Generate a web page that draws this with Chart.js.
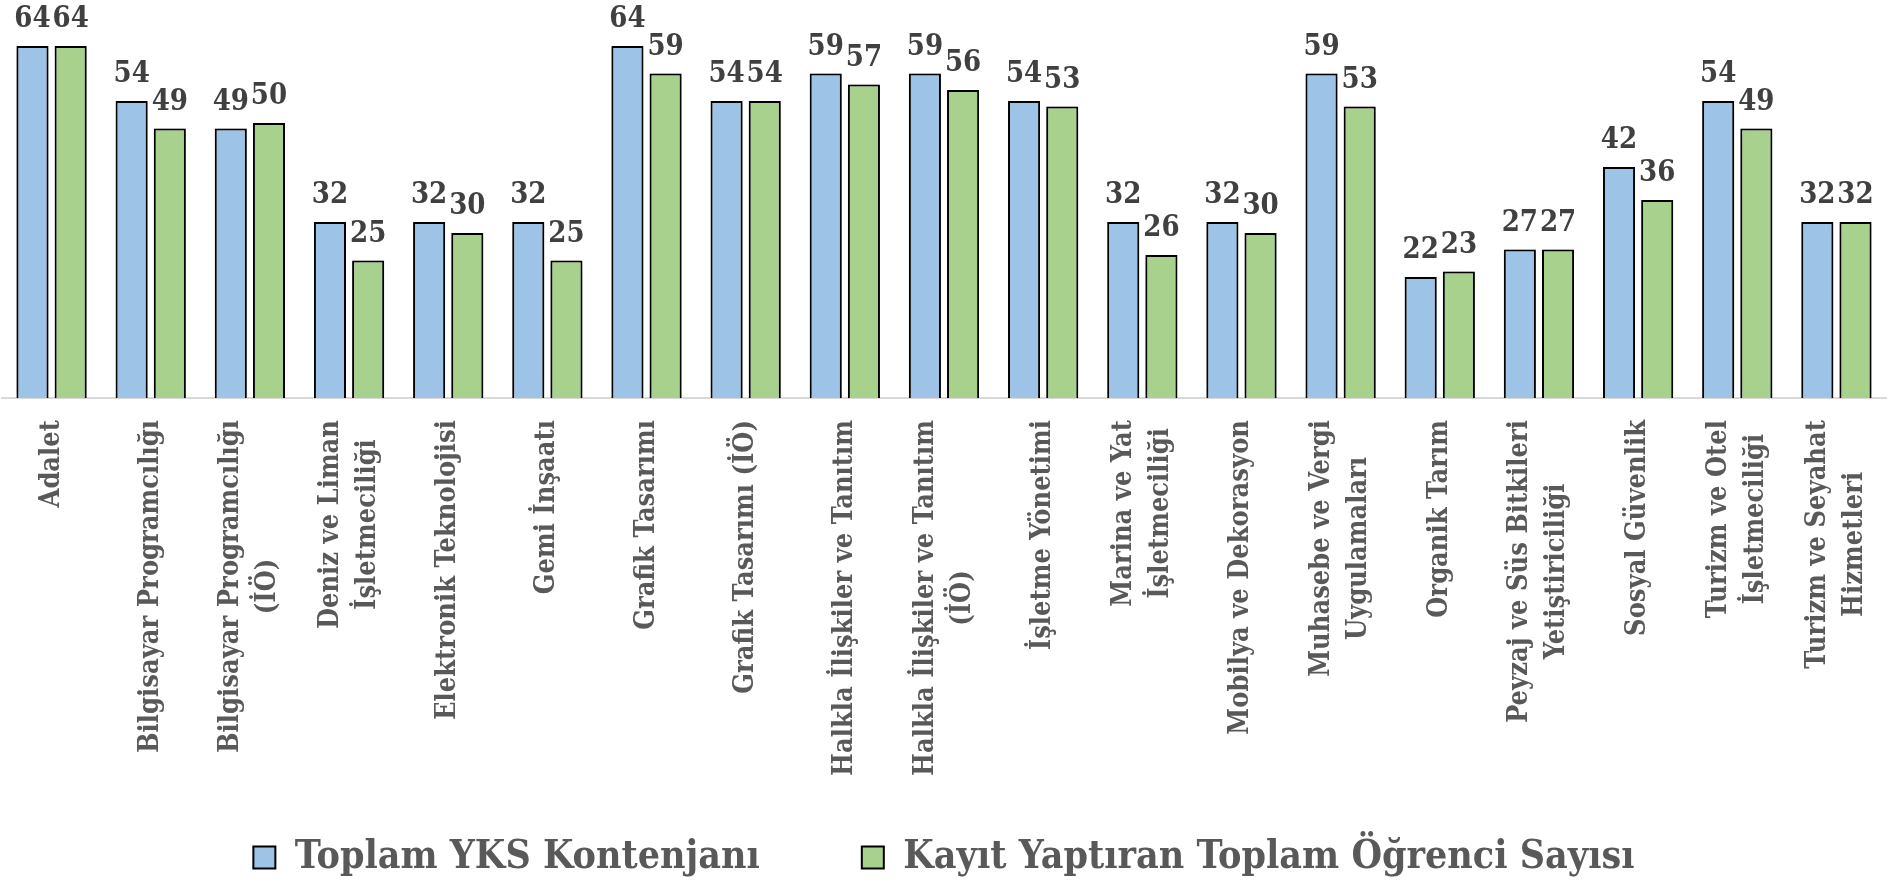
<!DOCTYPE html>
<html>
<head>
<meta charset="utf-8">
<script src="https://cdn.jsdelivr.net/npm/chart.js@4.4.1/dist/chart.umd.min.js"></script>
<style>
  html, body { margin: 0; padding: 0; background: #fff; }
  .chartBox { width: 1896px; height: 880px; position: relative; }
</style>
</head>
<body>
<div class="chartBox"><canvas id="barChart"></canvas></div>
<script>
// program names, long ones split the same way as the original
const programs = [
  ["Adalet"],
  ["Bilgisayar Programcılığı"],
  ["Bilgisayar Programcılığı", "(İÖ)"],
  ["Deniz ve Liman", "İşletmeciliği"],
  ["Elektronik Teknolojisi"],
  ["Gemi İnşaatı"],
  ["Grafik Tasarımı"],
  ["Grafik Tasarımı (İÖ)"],
  ["Halkla İlişkiler ve Tanıtım"],
  ["Halkla İlişkiler ve Tanıtım", "(İÖ)"],
  ["İşletme Yönetimi"],
  ["Marina ve Yat", "İşletmeciliği"],
  ["Mobilya ve Dekorasyon"],
  ["Muhasebe ve Vergi", "Uygulamaları"],
  ["Organik Tarım"],
  ["Peyzaj ve Süs Bitkileri", "Yetiştiriciliği"],
  ["Sosyal Güvenlik"],
  ["Turizm ve Otel", "İşletmeciliği"],
  ["Turizm ve Seyahat", "Hizmetleri"]
];

const seriesNames = ["Toplam YKS Kontenjanı", "Kayıt Yaptıran Toplam Öğrenci Sayısı"];
const quota    = [64, 54, 49, 32, 32, 32, 64, 54, 59, 59, 54, 32, 32, 59, 22, 27, 42, 54, 32];
const enrolled = [64, 49, 50, 25, 30, 25, 59, 54, 57, 56, 53, 26, 30, 53, 23, 27, 36, 49, 32];

const serif = "'DejaVu Serif Condensed', 'DejaVu Serif', serif";
const legendSize = 39;
const legendPad = 102;
const bottomPad = -7; // lets the legend row sit a bit lower

// soft shadow behind the bars + value labels on top
const barExtras = {
  id: "barExtras",
  beforeDatasetsDraw(chart) {
    const c = chart.ctx;
    c.save();
    c.shadowColor = "rgba(0,0,0,0.45)";
    c.shadowBlur = 7;
  },
  afterDatasetsDraw(chart) {
    const c = chart.ctx;
    c.restore();
    c.save();
    c.font = "bold 29px " + serif;
    c.fillStyle = "#404040";
    c.textAlign = "center";
    c.textBaseline = "alphabetic";
    chart.data.datasets.forEach((ds, di) => {
      chart.getDatasetMeta(di).data.forEach((bar, i) => {
        c.fillText(ds.data[i], bar.x, bar.y - 19);
      });
    });
    c.restore();
  }
};

// rotated category labels, lines centred on each other
const xLabels = {
  id: "xLabels",
  afterDraw(chart) {
    const c = chart.ctx;
    const xs = chart.scales.x;
    const top = xs.top + 22;
    const lh = 37;
    c.save();
    c.font = "bold 27px " + serif;
    c.fillStyle = "#595959";
    c.textAlign = "center";
    c.textBaseline = "middle";
    programs.forEach((lines, i) => {
      const cx = xs.getPixelForTick(i);
      const w = Math.max(...lines.map(l => c.measureText(l).width));
      c.save();
      c.translate(cx, top);
      c.rotate(-Math.PI / 2);
      lines.forEach((l, k) => {
        c.fillText(l, -w / 2, (k - (lines.length - 1) / 2) * lh);
      });
      c.restore();
    });
    c.restore();
  }
};

const ctx = document.getElementById("barChart").getContext("2d");

new Chart(ctx, {
  type: "bar",
  data: {
    labels: programs,
    datasets: [
      {
        label: seriesNames[0],
        data: quota,
        backgroundColor: "#9DC3E6",
        borderColor: "#000000",
        borderWidth: 2
      },
      {
        label: seriesNames[1],
        data: enrolled,
        backgroundColor: "#A9D18E",
        borderColor: "#000000",
        borderWidth: 2
      }
    ]
  },
  options: {
    responsive: true,
    maintainAspectRatio: false,
    animation: false,
    categoryPercentage: 0.77,
    barPercentage: 0.84,
    layout: { padding: { left: 2, right: 10, top: 13, bottom: bottomPad } },
    scales: {
      x: {
        grid: { display: false },
        border: { color: "#D9D9D9", width: 2 },
        ticks: { display: false },
        // keep the axis line at y≈398 whatever the legend takes
        afterFit(scale) { scale.height = 880 - bottomPad - 398 - (legendSize + legendPad + 10); }
      },
      y: {
        display: false,
        min: 0,
        max: 70
      }
    },
    plugins: {
      tooltip: { enabled: false },
      legend: {
        position: "bottom",
        labels: {
          boxWidth: 22,
          boxHeight: 22,
          padding: legendPad,
          color: "#595959",
          font: { family: serif, size: legendSize, weight: "bold" }
        }
      }
    }
  },
  plugins: [barExtras, xLabels]
});
</script>
</body>
</html>
